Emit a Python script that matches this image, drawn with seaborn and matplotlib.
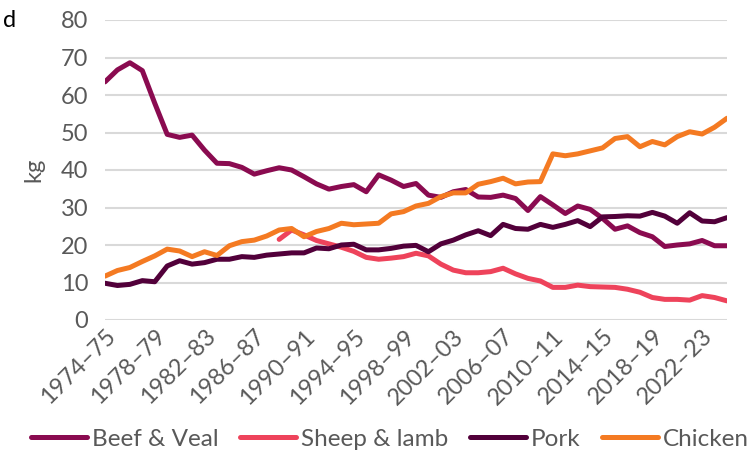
import numpy as np
import pandas as pd
import matplotlib
matplotlib.use("Agg")
import matplotlib.pyplot as plt
import seaborn as sns

years = list(range(1974, 2025))  # start year of each financial year (1974-75 .. 2024-25)

beef_veal = [63.5, 66.7, 68.6, 66.5, 57.8, 49.5, 48.7, 49.3, 45.3, 41.8,
             41.7, 40.7, 38.9, 39.8, 40.6, 40.0, 38.2, 36.3, 34.9, 35.6,
             36.1, 34.2, 38.7, 37.3, 35.6, 36.4, 33.3, 32.7, 34.2, 34.8,
             32.8, 32.7, 33.3, 32.4, 29.2, 32.9, 30.7, 28.4, 30.4, 29.5,
             27.1, 24.2, 25.1, 23.3, 22.2, 19.6, 20.0, 20.3, 21.2, 19.8,
             19.8]
sheep_lamb = [None] * 14 + [
             21.5, 24.0, 22.7, 21.2, 20.3, 19.4,
             18.3, 16.7, 16.2, 16.5, 16.9, 17.8, 17.1, 14.9, 13.3, 12.6,
             12.6, 12.9, 13.8, 12.3, 11.1, 10.4, 8.7, 8.7, 9.3, 8.9,
             8.8, 8.7, 8.2, 7.4, 6.0, 5.5, 5.5, 5.3, 6.5, 6.0,
             5.1]
pork = [9.8, 9.2, 9.5, 10.5, 10.2, 14.4, 15.8, 14.9, 15.3, 16.2,
        16.2, 16.9, 16.7, 17.3, 17.6, 17.9, 17.9, 19.2, 19.0, 20.0,
        20.2, 18.7, 18.7, 19.1, 19.7, 19.9, 18.2, 20.3, 21.3, 22.7,
        23.8, 22.5, 25.5, 24.4, 24.2, 25.5, 24.7, 25.5, 26.5, 24.9,
        27.5, 27.6, 27.8, 27.7, 28.7, 27.7, 25.8, 28.6, 26.4, 26.2,
        27.3]
chicken = [11.7, 13.2, 14.0, 15.6, 17.1, 18.9, 18.4, 16.9, 18.2, 17.2,
           19.8, 20.9, 21.3, 22.4, 24.0, 24.4, 22.2, 23.6, 24.4, 25.8,
           25.4, 25.6, 25.8, 28.3, 28.9, 30.4, 31.1, 32.9, 33.9, 33.9,
           36.2, 36.9, 37.8, 36.3, 36.8, 36.9, 44.3, 43.8, 44.3, 45.1,
           45.9, 48.4, 48.9, 46.2, 47.6, 46.7, 48.9, 50.2, 49.6, 51.4,
           53.8]

series_names = ["Beef & Veal", "Sheep & lamb", "Pork", "Chicken"]
colors = ["#8A0B50", "#EE435B", "#52003A", "#F47A22"]

tick_years = list(range(1974, 2023, 4))
tick_labels = [f"{y}\u2013{(y + 1) % 100:02d}" for y in tick_years]

df = pd.DataFrame({
    "year": years * 4,
    "kg": beef_veal + sheep_lamb + pork + chicken,
    "series": sum([[n] * len(years) for n in series_names], []),
}).dropna()

sns.set_theme(style="white")
plt.rcParams["font.family"] = ["Lato", "DejaVu Sans"]
grey = "#595959"

fig = plt.figure(figsize=(7.55, 4.51), dpi=100)
ax = fig.add_axes([105 / 755, 1 - 320 / 451, (727 - 105) / 755, 300 / 451])

sns.lineplot(data=df, x="year", y="kg", hue="series", hue_order=series_names,
             palette=colors, linewidth=3.6, ax=ax, legend=False,
             solid_capstyle="round", solid_joinstyle="round")

ax.set_xlim(1974, 2024)
ax.set_ylim(0, 80)
ax.set_yticks(range(0, 81, 10))
ax.set_xticks(tick_years)
ax.set_xticklabels(tick_labels, rotation=45, ha="right", va="top",
                   rotation_mode="anchor")
ax.yaxis.grid(True, color="#D9D9D9", linewidth=1.5)
ax.xaxis.grid(False)
ax.set_axisbelow(True)
for s in ax.spines.values():
    s.set_visible(False)
ax.tick_params(axis="both", length=0, labelsize=17, colors=grey)
ax.tick_params(axis="y", pad=12)
ax.tick_params(axis="x", pad=4)
ax.set_xlabel("")
ax.set_ylabel("kg", fontsize=17, color=grey, labelpad=12)

handles = ax.get_lines()[:4]
leg = fig.legend(handles, series_names, loc="center", ncol=4,
                 bbox_to_anchor=(390 / 755, 1 - 439 / 451), frameon=False,
                 fontsize=17.5, handlelength=2.3, handletextpad=0.2,
                 columnspacing=0.9, borderaxespad=0)
for t in leg.get_texts():
    t.set_color(grey)
for h in leg.get_lines():
    h.set_linewidth(3.6)
    h.set_solid_capstyle("round")

fig.text(3 / 755, 1 - 27 / 451, "d", fontsize=17, color="black", va="baseline")

fig.savefig("out.png", dpi=100)
